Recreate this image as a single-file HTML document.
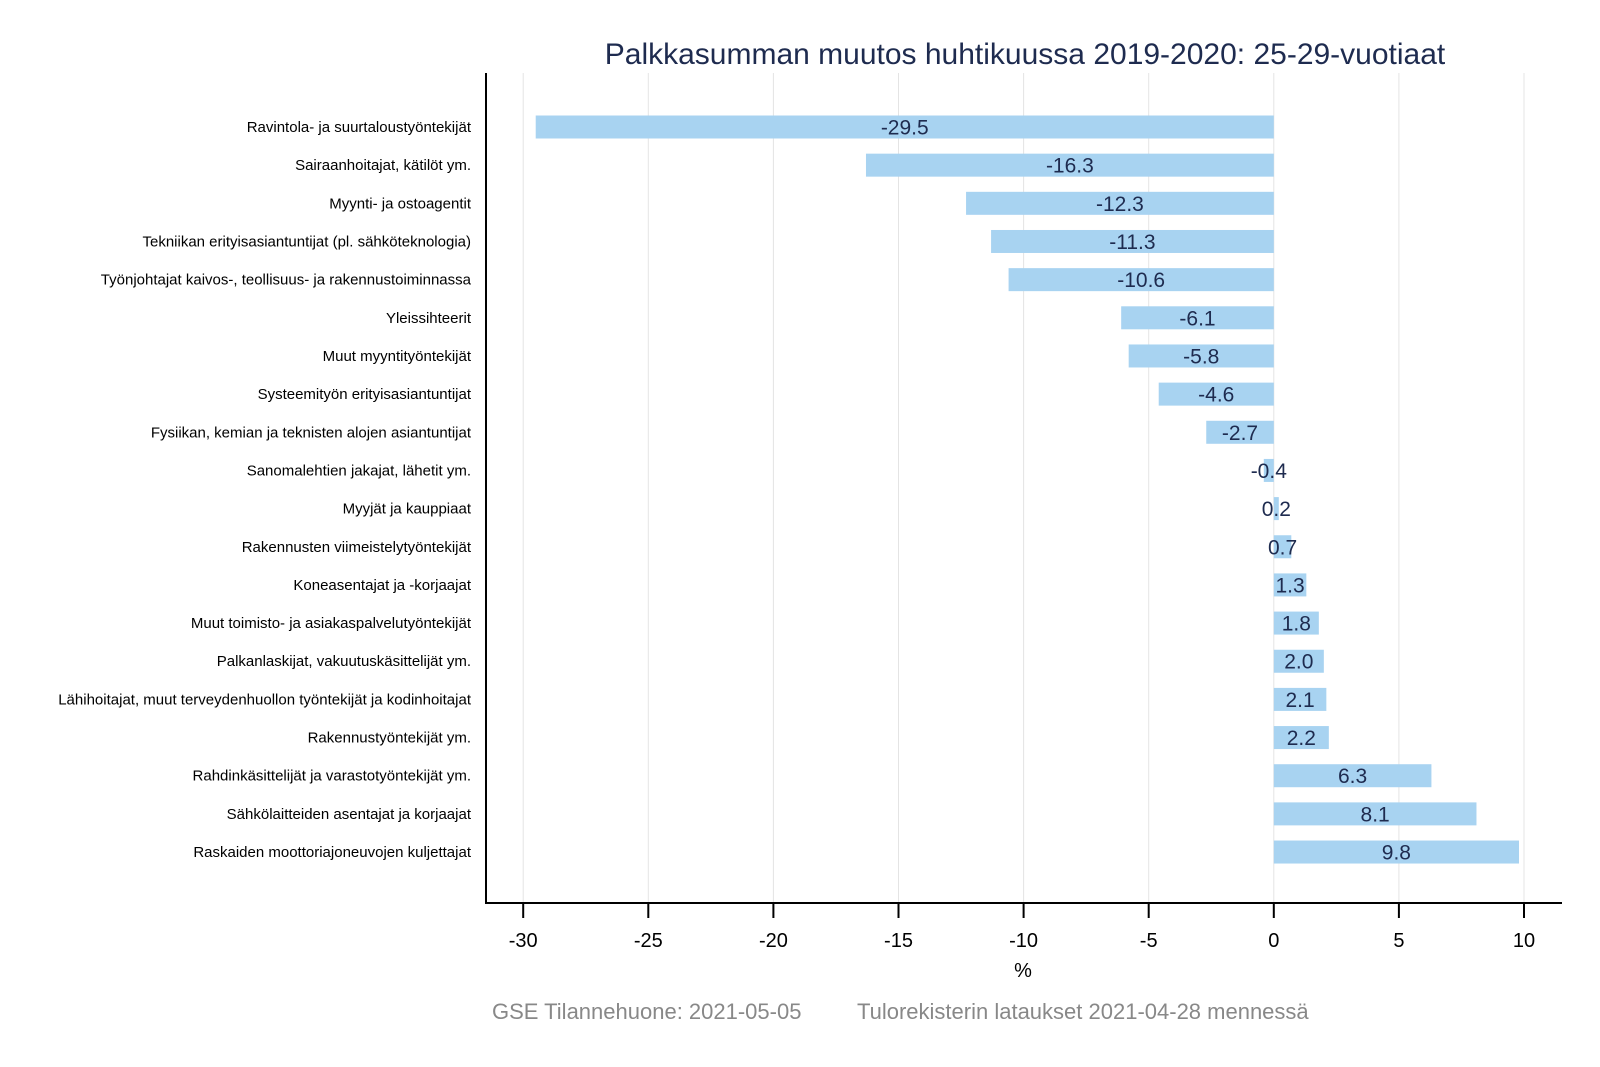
<!DOCTYPE html>
<html><head><meta charset="utf-8"><style>body{margin:0;background:#fff}svg{display:block}</style></head><body>
<svg width="1600" height="1067" xmlns="http://www.w3.org/2000/svg" font-family="Liberation Sans, Arial, sans-serif">
<rect width="1600" height="1067" fill="#fff"/>
<text x="1025" y="64" font-size="30" fill="#1e2b4f" text-anchor="middle">Palkkasumman muutos huhtikuussa 2019-2020: 25-29-vuotiaat</text>
<g id="grid" stroke="#e4e4e4" stroke-width="1"></g>
<g id="bars" fill="#a8d3f1"></g>
<g id="labs" font-size="15" fill="#000" text-anchor="end"></g>
<g id="vals" font-size="21" fill="#1e2b4f" text-anchor="middle"></g>
<line x1="486" y1="73" x2="486" y2="904" stroke="#000" stroke-width="2"/>
<line x1="485" y1="903" x2="1562" y2="903" stroke="#000" stroke-width="2"/>
<g id="ticks" stroke="#000" stroke-width="2"></g>
<g id="tl" font-size="20" fill="#000" text-anchor="middle"></g>
<text x="1023" y="977" font-size="20" text-anchor="middle">%</text>
<g font-size="22" fill="#888">
<text x="492" y="1019">GSE Tilannehuone: 2021-05-05</text>
<text x="857" y="1019">Tulorekisterin lataukset 2021-04-28 mennessä</text>
</g>
<script>
var ns="http://www.w3.org/2000/svg";
function X(v){return 1273.8+v*25.02;}
function el(p,tag,at,txt){var e=document.createElementNS(ns,tag);for(var k in at)e.setAttribute(k,at[k]);if(txt!=null)e.textContent=txt;document.getElementById(p).appendChild(e);}
for(var t=-30;t<=10;t+=5){var x=X(t);el("grid","line",{x1:x,y1:73,x2:x,y2:903});el("ticks","line",{x1:x,y1:903,x2:x,y2:918});el("tl","text",{x:x,y:947},String(t));}
var d=[["Ravintola- ja suurtaloustyöntekijät",-29.5],["Sairaanhoitajat, kätilöt ym.",-16.3],["Myynti- ja ostoagentit",-12.3],["Tekniikan erityisasiantuntijat (pl. sähköteknologia)",-11.3],["Työnjohtajat kaivos-, teollisuus- ja rakennustoiminnassa",-10.6],["Yleissihteerit",-6.1],["Muut myyntityöntekijät",-5.8],["Systeemityön erityisasiantuntijat",-4.6],["Fysiikan, kemian ja teknisten alojen asiantuntijat",-2.7],["Sanomalehtien jakajat, lähetit ym.",-0.4],["Myyjät ja kauppiaat",0.2],["Rakennusten viimeistelytyöntekijät",0.7],["Koneasentajat ja -korjaajat",1.3],["Muut toimisto- ja asiakaspalvelutyöntekijät",1.8],["Palkanlaskijat, vakuutuskäsittelijät ym.",2.0],["Lähihoitajat, muut terveydenhuollon työntekijät ja kodinhoitajat",2.1],["Rakennustyöntekijät ym.",2.2],["Rahdinkäsittelijät ja varastotyöntekijät ym.",6.3],["Sähkölaitteiden asentajat ja korjaajat",8.1],["Raskaiden moottoriajoneuvojen kuljettajat",9.8]];
d.forEach(function(r,i){var cy=127+i*38.16,x0=X(0),x1=X(r[1]),a=Math.min(x0,x1),w=Math.abs(x1-x0);
el("bars","rect",{x:a,y:cy-11.5,width:w,height:23});
el("labs","text",{x:471,y:cy+5},r[0]);
el("vals","text",{x:a+w/2,y:cy+7.5},r[1].toFixed(1));});
</script>
</svg>
</body></html>
